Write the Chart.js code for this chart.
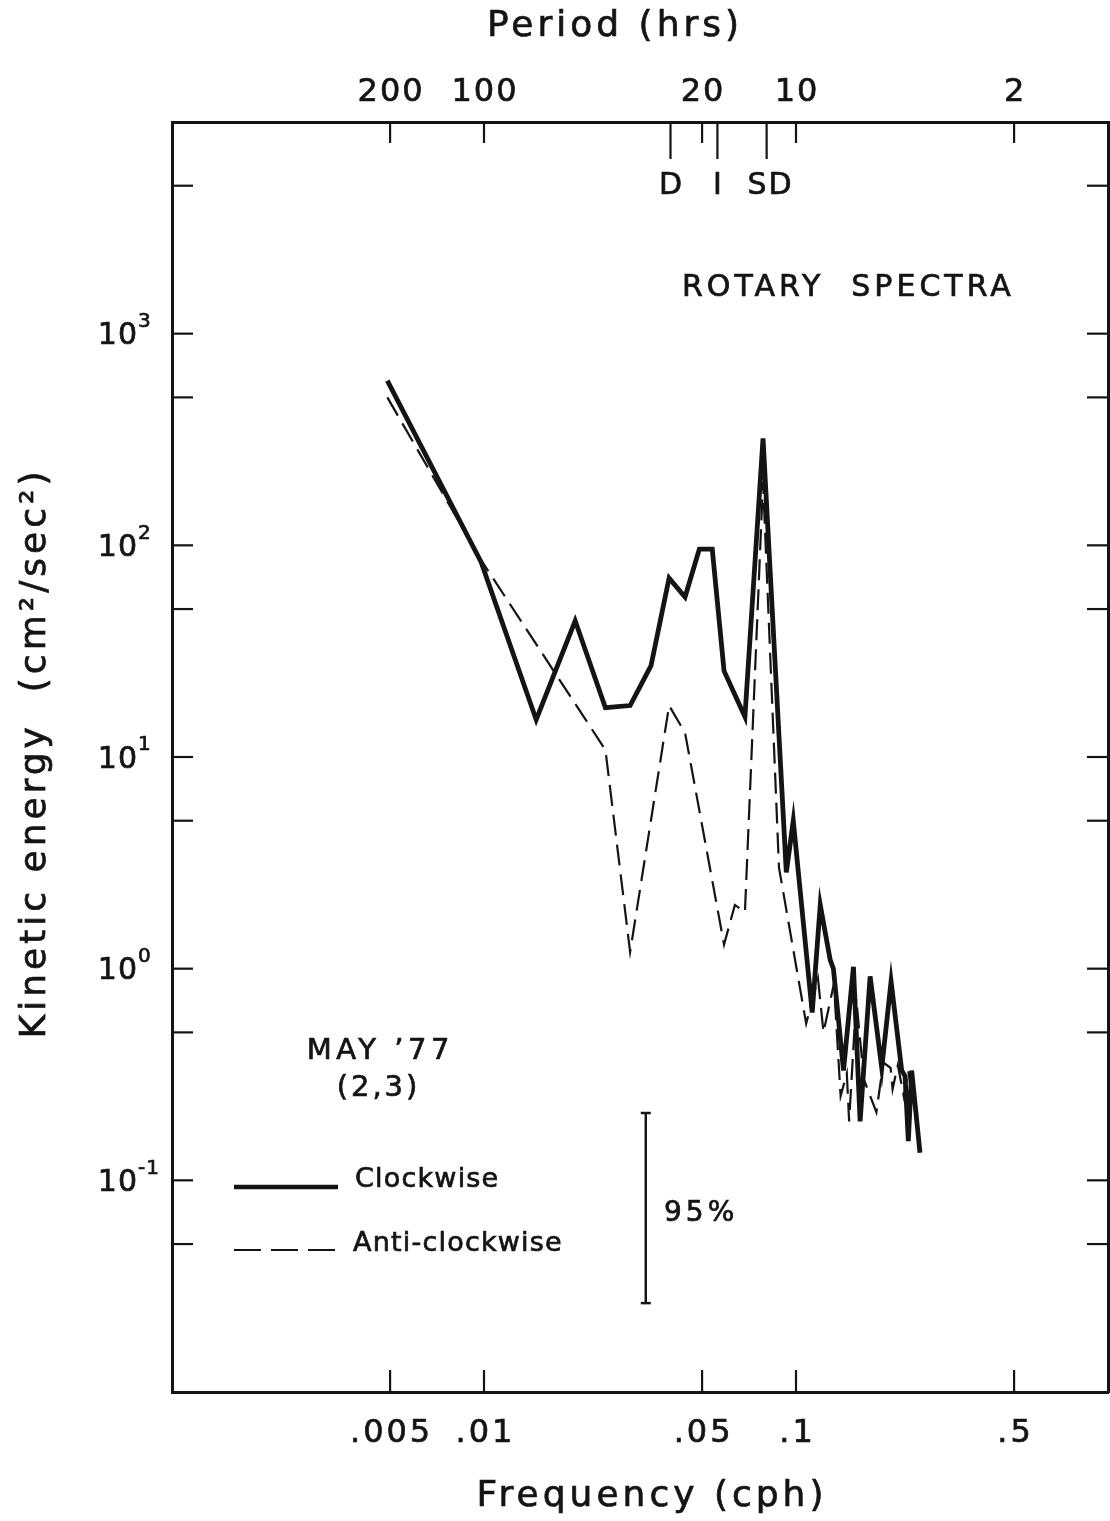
<!DOCTYPE html>
<html>
<head>
<meta charset="utf-8">
<script src="https://cdn.jsdelivr.net/npm/chart.js@4.4.1/dist/chart.umd.min.js"></script>
<style>
html,body{margin:0;padding:0;background:#fff;}
canvas{display:block;}
</style>
</head>
<body>
<canvas id="c" width="1110" height="1521"></canvas>
<script>
// ---------- data ----------
const cwFreq   = [0.0049, 0.0098, 0.0147, 0.0196, 0.0245, 0.0294, 0.0343, 0.0392, 0.0441, 0.0490,
                  0.0539, 0.0588, 0.0686, 0.0784, 0.0931, 0.0980, 0.1127, 0.1196, 0.1287, 0.1318,
                  0.1420, 0.1528, 0.1605, 0.1728, 0.1883, 0.2017, 0.2182, 0.2237, 0.2291, 0.2348, 0.2497];
const cwEnergy = [600, 83, 15, 44, 17.1, 17.5, 27, 70, 57, 96,
                  96, 25.5, 15.5, 320, 2.85, 5.0, 0.62, 2.0, 1.1, 1.0,
                  0.33, 1.02, 0.19, 0.92, 0.34, 0.87, 0.33, 0.31, 0.153, 0.33, 0.135];
const acwFreq   = [0.0049, 0.0098, 0.0245, 0.0294, 0.0392, 0.0441, 0.0588, 0.0637, 0.0686, 0.0784,
                   0.0882, 0.1078, 0.1176, 0.1225, 0.1323, 0.1390, 0.1455, 0.1480, 0.1560, 0.1650,
                   0.1810, 0.1905, 0.2010, 0.2040, 0.2120, 0.2215, 0.2290, 0.2360];
const acwEnergy = [500, 85, 10.8, 1.2, 17.5, 13, 1.3, 2.0, 1.85, 200,
                   3.0, 0.55, 0.9, 0.5, 0.85, 0.25, 0.32, 0.19, 0.72, 0.3,
                   0.21, 0.36, 0.34, 0.27, 0.35, 0.25, 0.33, 0.24];

const freqTicks       = [0.005, 0.01, 0.05, 0.1, 0.5];
const freqTickLabels  = ['.005', '.01', '.05', '.1', '.5'];
const periodTicks     = [200, 100, 20, 10, 2];
const periodTickLabels= ['200', '100', '20', '10', '2'];
const tidalPeriods    = [25.25, 17.86, 12.42];
const tidalLabels     = ['D', 'I', 'SD'];
const energyMajorTicks= [1000, 100, 10, 1, 0.1];
const energyExponents = ['3', '2', '1', '0', '-1'];
const energyMinorTicks= [5000, 500, 50, 5, 0.5, 0.05];
const errorBarFreq    = 0.033;
const errorBarRange   = [0.0263, 0.208];
const seriesLabels    = ['Clockwise', 'Anti-clockwise'];

// ---------- rendering ----------
const INK = '#141414';
const FONT = '"DejaVu Sans", "Liberation Sans", sans-serif';

function drawText(ctx, s, x, y, size, align, spacing, rot) {
  ctx.save();
  ctx.font = size + 'px ' + FONT;
  ctx.letterSpacing = spacing + 'px';
  ctx.fillStyle = INK;
  ctx.strokeStyle = INK;
  ctx.lineWidth = 0.7;
  ctx.setLineDash([]);
  ctx.textBaseline = 'middle';
  ctx.textAlign = align;
  let dx = 0;
  if (align === 'center') dx = spacing / 2;
  else if (align === 'right') dx = spacing;
  if (rot) {
    ctx.translate(x, y);
    ctx.rotate(rot);
    ctx.fillText(s, dx, 0);
    ctx.strokeText(s, dx, 0);
  } else {
    ctx.fillText(s, x + dx, y);
    ctx.strokeText(s, x + dx, y);
  }
  ctx.restore();
}
function seg(ctx, x1, y1, x2, y2) {
  ctx.beginPath(); ctx.moveTo(x1, y1); ctx.lineTo(x2, y2); ctx.stroke();
}

const decor = {
  id: 'decor',
  afterDraw(chart) {
    const ctx = chart.ctx, a = chart.chartArea;
    const sx = chart.scales.x, sx2 = chart.scales.x2, sy = chart.scales.y, sy2 = chart.scales.y2;
    ctx.save();
    ctx.strokeStyle = INK;
    ctx.lineWidth = 2.2;
    ctx.lineCap = 'butt';
    // bottom ticks + labels
    sx.ticks.forEach((t, i) => {
      const px = sx.getPixelForValue(t.value);
      seg(ctx, px, a.bottom, px, a.bottom - 22);
      drawText(ctx, freqTickLabels[i], px, 1434, 32, 'center', 3);
    });
    // top ticks + labels (period)
    sx2.ticks.forEach((t, i) => {
      const px = sx2.getPixelForValue(t.value);
      seg(ctx, px, a.top, px, a.top + 21);
      drawText(ctx, periodTickLabels[i], px, 93, 32, 'center', 2);
    });
    // tidal marks
    tidalPeriods.forEach((p, i) => {
      const px = sx2.getPixelForValue(1 / p);
      seg(ctx, px, a.top, px, a.top + 37);
      drawText(ctx, tidalLabels[i], px + (i === 2 ? 3 : 0), 186, 30, 'center', 2);
    });
    // left / right ticks
    sy.ticks.forEach(t => {
      const py = sy.getPixelForValue(t.value);
      seg(ctx, a.left, py, a.left + 21, py);
    });
    sy2.ticks.forEach(t => {
      const py = sy2.getPixelForValue(t.value);
      seg(ctx, a.right, py, a.right - 21, py);
    });
    // left labels 10^n
    energyMajorTicks.forEach((v, i) => {
      const py = sy.getPixelForValue(v);
      drawText(ctx, '10', 137, py + 3, 30, 'right', 1);
      drawText(ctx, energyExponents[i], 138, py - 12, 20, 'left', 1);
    });
    // axis titles
    drawText(ctx, 'Period (hrs)', 613, 27, 36, 'center', 4);
    drawText(ctx, 'Frequency (cph)', 650, 1497, 36, 'center', 4);
    drawText(ctx, 'Kinetic energy  (cm\u00B2/sec\u00B2)', 36, 755, 36, 'center', 4, -Math.PI / 2);
    // annotations
    drawText(ctx, 'ROTARY  SPECTRA', 682, 288, 30, 'left', 4);
    drawText(ctx, 'MAY \u201977', 378, 1051, 29, 'center', 4.5);
    drawText(ctx, '(2,3)', 377, 1088, 29, 'center', 3);
    // legend
    ctx.lineWidth = 4.5;
    seg(ctx, 234, 1187, 338, 1187);
    drawText(ctx, seriesLabels[0], 355, 1180, 27, 'left', 1.2);
    ctx.lineWidth = 2.2;
    ctx.setLineDash([27, 10]);
    seg(ctx, 234, 1250, 338, 1250);
    ctx.setLineDash([]);
    drawText(ctx, seriesLabels[1], 353, 1244, 27, 'left', 1.2);
    // 95% bar
    const bx = sx.getPixelForValue(errorBarFreq);
    const by1 = sy.getPixelForValue(errorBarRange[1]);
    const by2 = sy.getPixelForValue(errorBarRange[0]);
    ctx.lineWidth = 2.5;
    seg(ctx, bx, by1, bx, by2);
    seg(ctx, bx - 5, by1, bx + 5, by1);
    seg(ctx, bx - 5, by2, bx + 5, by2);
    drawText(ctx, '95%', 664, 1214, 28, 'left', 4);
    ctx.restore();
  }
};

const logAxis = (pos, min, max, ticksFn) => ({
  type: 'logarithmic', position: pos, min: min, max: max,
  grid: { display: false, drawTicks: false },
  ticks: { display: false },
  border: { display: true, color: INK, width: 3 },
  afterBuildTicks: s => { s.ticks = ticksFn().map(v => ({ value: v })); }
});

new Chart(document.getElementById('c'), {
  type: 'scatter',
  data: {
    datasets: [
      { label: seriesLabels[0], data: cwFreq.map((f, i) => ({ x: f, y: cwEnergy[i] })),
        showLine: true, borderColor: INK, borderWidth: 4.8, pointRadius: 0, tension: 0,
        borderJoinStyle: 'miter', xAxisID: 'x', yAxisID: 'y' },
      { label: seriesLabels[1], data: acwFreq.map((f, i) => ({ x: f, y: acwEnergy[i] })),
        showLine: true, borderColor: INK, borderWidth: 2.2, borderDash: [21, 9], pointRadius: 0, tension: 0,
        xAxisID: 'x', yAxisID: 'y' }
    ]
  },
  options: {
    responsive: false, animation: false, devicePixelRatio: 1,
    layout: { padding: { left: 172, top: 122, right: 2, bottom: 129 } },
    plugins: { legend: { display: false }, tooltip: { enabled: false } },
    scales: {
      x:  logAxis('bottom', 0.001, 1, () => freqTicks),
      x2: logAxis('top', 0.001, 1, () => periodTicks.map(p => 1 / p)),
      y:  logAxis('left', 0.01, 10000, () => energyMajorTicks.concat(energyMinorTicks)),
      y2: logAxis('right', 0.01, 10000, () => energyMajorTicks.concat(energyMinorTicks))
    }
  },
  plugins: [decor]
});
</script>
</body>
</html>
